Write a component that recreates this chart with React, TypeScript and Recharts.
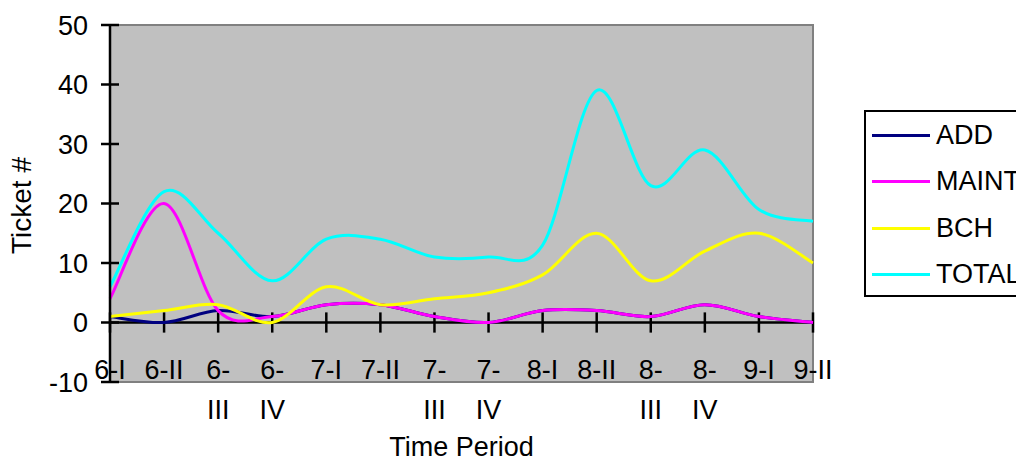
import { LineChart, Line, XAxis, YAxis, Legend, ReferenceLine, ReferenceArea } from 'recharts';

const periods = ['6-I', '6-II', '6-III', '6-IV', '7-I', '7-II', '7-III', '7-IV', '8-I', '8-II', '8-III', '8-IV', '9-I', '9-II'];
const addValues = [1, 0, 2, 1, 3, 3, 1, 0, 2, 2, 1, 3, 1, 0];
const maintValues = [4, 20, 2, 1, 3, 3, 1, 0, 2, 2, 1, 3, 1, 0];
const bchValues = [1, 2, 3, 0, 6, 3, 4, 5, 8, 15, 7, 12, 15, 10];
const totalValues = [6, 22, 15, 7, 14, 14, 11, 11, 13, 39, 23, 29, 19, 17];
const yTicks = [-10, 0, 10, 20, 30, 40, 50];

const data = periods.map((p, i) => ({
  period: p,
  ADD: addValues[i],
  MAINT: maintValues[i],
  BCH: bchValues[i],
  TOTAL: totalValues[i],
}));

const series = [
  { key: 'ADD', color: '#000080' },
  { key: 'MAINT', color: '#FF00FF' },
  { key: 'BCH', color: '#FFFF00' },
  { key: 'TOTAL', color: '#00FFFF' },
];

const FONT = '"Liberation Sans", Arial, sans-serif';

// catmull-rom style smoothing, close to what excel does with "smoothed line"
function excelSmooth(context: any) {
  let pts: number[][] = [];
  return {
    areaStart() {},
    areaEnd() {},
    lineStart() {
      pts = [];
    },
    point(x: number, y: number) {
      pts.push([+x, +y]);
    },
    lineEnd() {
      if (!pts.length) return;
      context.moveTo(pts[0][0], pts[0][1]);
      for (let i = 0; i < pts.length - 1; i++) {
        const p0 = pts[i - 1] || pts[i];
        const p1 = pts[i];
        const p2 = pts[i + 1];
        const p3 = pts[i + 2] || p2;
        context.bezierCurveTo(
          p1[0] + (p2[0] - p0[0]) / 6,
          p1[1] + (p2[1] - p0[1]) / 6,
          p2[0] - (p3[0] - p1[0]) / 6,
          p2[1] - (p3[1] - p1[1]) / 6,
          p2[0],
          p2[1]
        );
      }
    },
  };
}

const charW: Record<string, number> = { '-': 0.333, I: 0.278, V: 0.667 };
function labelWidth(s: string, size: number) {
  let w = 0;
  for (const c of s) w += charW[c] ?? 0.556;
  return w * size;
}

const XTick = (props: any) => {
  const { x, payload } = props;
  const label: string = payload.value;
  const cut = label.indexOf('-') + 1;
  const lines = labelWidth(label, 27) > 45 ? [label.slice(0, cut), label.slice(cut)] : [label];
  return (
    <g>
      {lines.map((l, i) => (
        <text key={i} x={x} y={379 + i * 40} textAnchor="middle" fontSize={27} fontFamily={FONT} fill="#000">
          {l}
        </text>
      ))}
    </g>
  );
};

const YTick = (props: any) => {
  const { x, y, payload } = props;
  const axisX = x + 22;
  return (
    <g>
      <line x1={axisX - 9} x2={axisX + 9} y1={y} y2={y} stroke="#000" strokeWidth={2.5} />
      <text x={axisX - 22} y={y} dy={9.5} textAnchor="end" fontSize={27} fontFamily={FONT} fill="#000">
        {payload.value}
      </text>
    </g>
  );
};

const YLabel = (props: any) => {
  const { viewBox } = props;
  const cy = viewBox.y + viewBox.height / 2 + 2;
  return (
    <text x={31} y={cy} transform={`rotate(-90, 31, ${cy})`} textAnchor="middle" fontSize={28} fontFamily={FONT} fill="#000">
      Ticket #
    </text>
  );
};

const LegendBox = () => (
  <div style={{ border: '2px solid #000', background: '#fff', width: 170, height: 183, boxSizing: 'content-box' }}>
    {series.map((s) => (
      <div key={s.key} style={{ display: 'flex', alignItems: 'center', height: 46.5, fontFamily: FONT, fontSize: 27 }}>
        <div style={{ marginLeft: 6, width: 58, height: 3, background: s.color }} />
        <span style={{ marginLeft: 6, lineHeight: '27px', color: '#000' }}>{s.key}</span>
      </div>
    ))}
  </div>
);

export default function App() {
  return (
    <div style={{ margin: -8, width: 1024, height: 464, overflow: 'hidden', position: 'relative', background: '#fff' }}>
      <LineChart width={1024} height={464} data={data} margin={{ top: 25, right: 211, left: 10, bottom: 52 }}>
        <ReferenceArea x1="6-I" x2="9-II" y1={-10} y2={50} fill="#C0C0C0" fillOpacity={1} stroke="#808080" strokeWidth={2} />
        <XAxis
          dataKey="period"
          height={30}
          axisLine={false}
          tickLine={false}
          interval={0}
          tick={<XTick />}
          label={{ value: 'Time Period', position: 'insideBottom', offset: -44, fontSize: 27, fontFamily: FONT, fill: '#000' }}
        />
        <YAxis
          width={100}
          domain={[-10, 50]}
          ticks={yTicks}
          interval={0}
          tickSize={9}
          tickMargin={13}
          tickLine={false}
          axisLine={{ stroke: '#000', strokeWidth: 2.5 }}
          tick={<YTick />}
          label={<YLabel />}
        />
        <ReferenceLine y={0} stroke="#000" strokeWidth={2.5} />
        {periods.map((p) => (
          <ReferenceLine
            key={p}
            segment={[
              { x: p, y: -1.7 },
              { x: p, y: 1.7 },
            ]}
            stroke="#000"
            strokeWidth={2.5}
          />
        ))}
        {series.map((s) => (
          <Line
            key={s.key}
            dataKey={s.key}
            stroke={s.color}
            strokeWidth={3}
            dot={false}
            type={excelSmooth as any}
            isAnimationActive={false}
          />
        ))}
        <Legend
          layout="vertical"
          align="center"
          verticalAlign="middle"
          content={<LegendBox />}
          wrapperStyle={{ left: 864, top: 110, width: 174, height: 187 }}
        />
      </LineChart>
    </div>
  );
}
